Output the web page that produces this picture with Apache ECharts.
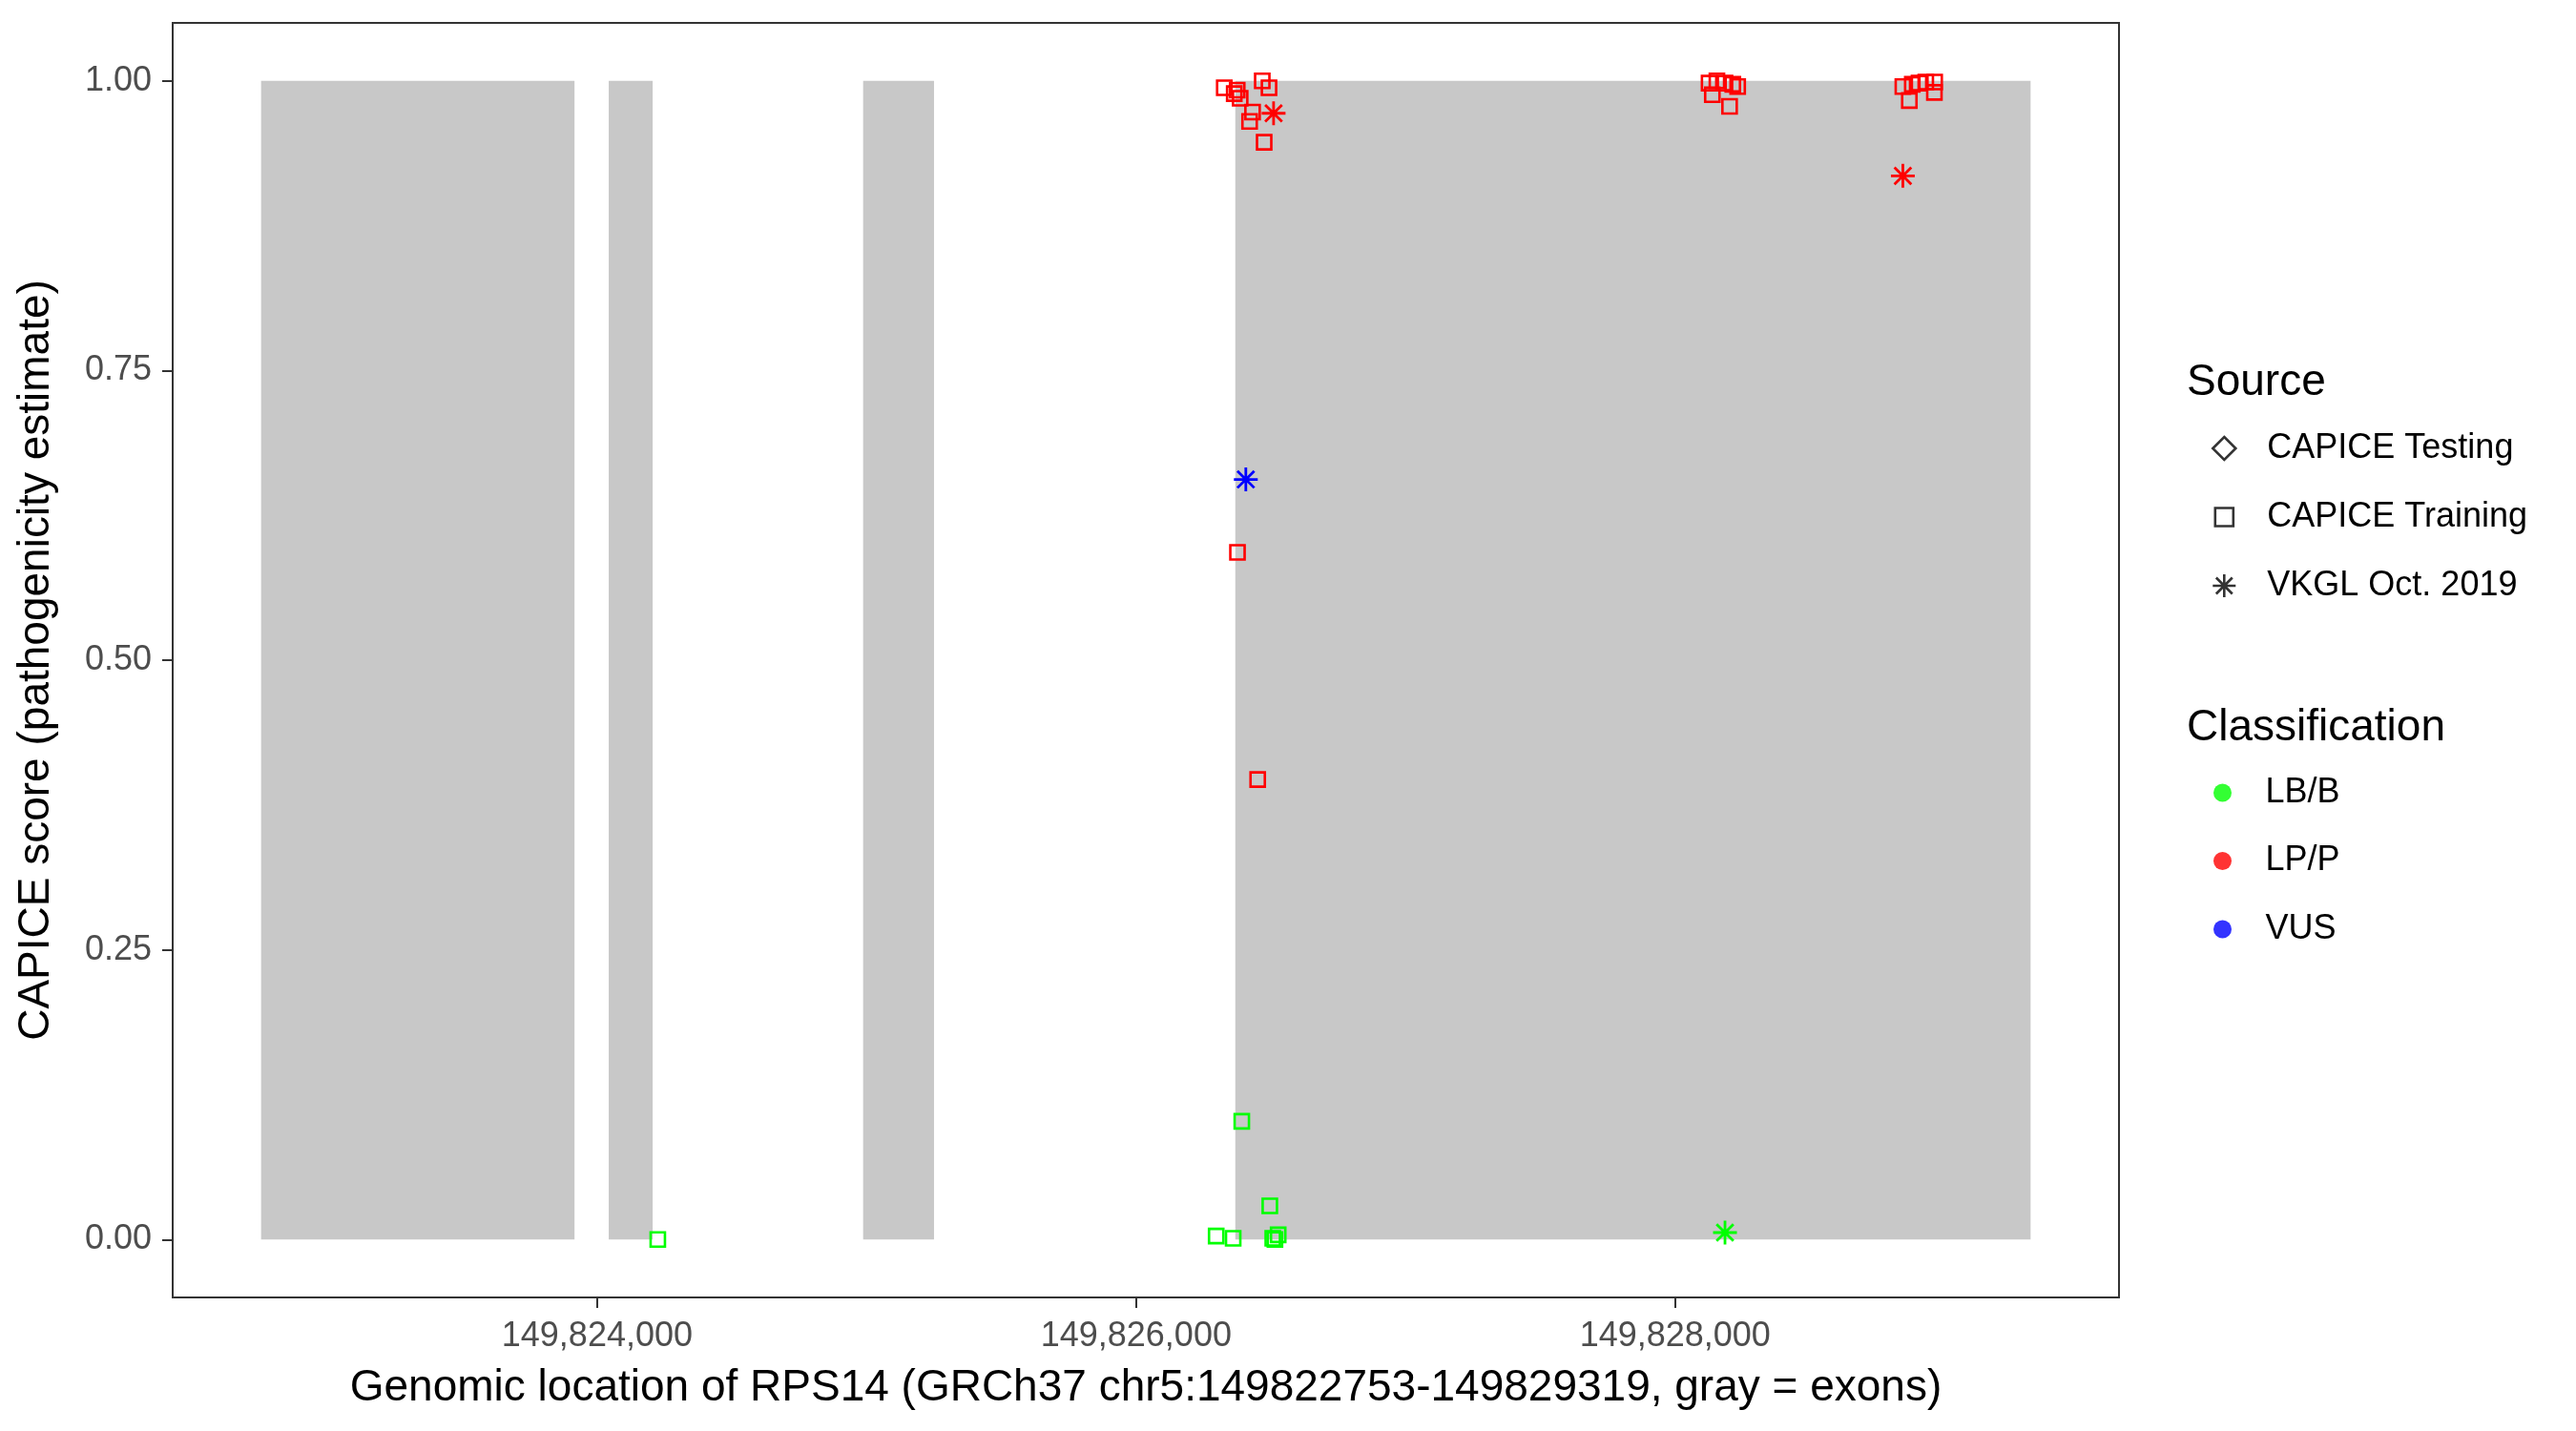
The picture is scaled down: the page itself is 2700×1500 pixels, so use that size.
<!DOCTYPE html>
<html>
<head>
<meta charset="utf-8">
<script src="https://cdn.jsdelivr.net/npm/echarts@6/dist/echarts.min.js"></script>
<style>
html,body{margin:0;padding:0;background:#fff;}
#chart{width:2700px;height:1500px;}
</style>
</head>
<body>
<div id="chart"></div>
<script>
// ---- data ----
const exonStart = [149822753, 149824043, 149824987, 149826368];
const exonEnd   = [149823916, 149824206, 149825250, 149829319];

// [genomic position, CAPICE score]
const lpTraining = [
  [149826327, 0.994], [149826364, 0.989], [149826386, 0.985], [149826375, 0.992],
  [149826468, 1.000], [149826493, 0.994], [149826421, 0.965], [149826432, 0.973],
  [149826475, 0.947], [149826376, 0.593], [149826451, 0.397],
  [149828126, 0.998], [149828138, 0.988], [149828155, 1.000], [149828185, 0.998],
  [149828214, 0.997], [149828232, 0.995], [149828202, 0.978],
  [149828845, 0.995], [149828869, 0.983], [149828880, 0.997], [149828905, 0.998],
  [149828930, 0.999], [149828963, 0.999], [149828962, 0.990]
];
const lpVkgl = [[149826510, 0.972], [149828845, 0.918]];
const lbTraining = [
  [149824225, 0.000], [149826392, 0.102], [149826496, 0.029], [149826297, 0.003],
  [149826360, 0.001], [149826507, 0.001], [149826527, 0.004], [149826515, 0.000]
];
const lbVkgl = [[149828185, 0.006]];
const vusVkgl = [[149826407, 0.656]];

const xTicks = [149824000, 149826000, 149828000];
const yTicks = [0, 0.25, 0.5, 0.75, 1];
const sourceNames = ['CAPICE Testing', 'CAPICE Training', 'VKGL Oct. 2019'];
const classNames = ['LB/B', 'LP/P', 'VUS'];
const classColors = ['#00FF00', '#FF0000', '#0000FF'];

// ---- chart ----
const FONT = '"Liberation Sans", Arial, Helvetica, sans-serif';
const ASTERISK = 'path://M10,0L10,20M0,10L20,10M2.93,2.93L17.07,17.07M2.93,17.07L17.07,2.93';
const DIAMOND = 'path://M10,0L20,10L10,20L0,10Z';
const SQUARE_PADDED = 'path://M0,0M24,24M2.5,2.5L21.5,2.5L21.5,21.5L2.5,21.5Z';
const CIRCLE = 'path://M10,0A10,10 0 1,1 10,20A10,10 0 1,1 10,0Z';

function squareSeries(name, data, color) {
  return {
    name: name, type: 'scatter', data: data, z: 3,
    symbol: 'rect', symbolSize: 15,
    itemStyle: {color: 'rgba(0,0,0,0)', borderColor: color, borderWidth: 2.6, opacity: 1},
    emphasis: {disabled: true}
  };
}
function asteriskSeries(name, data, color) {
  return {
    name: name, type: 'scatter', data: data, z: 3,
    symbol: ASTERISK, symbolSize: 25,
    itemStyle: {color: 'rgba(0,0,0,0)', borderColor: color, borderWidth: 2.8, opacity: 1},
    emphasis: {disabled: true}
  };
}

const exonAreas = exonStart.map((s, i) => [{xAxis: s, yAxis: 0}, {xAxis: exonEnd[i], yAxis: 1}]);

const series = [
  {
    name: 'exons', type: 'scatter', data: [], z: 1, silent: true,
    markArea: {silent: true, itemStyle: {color: '#C8C8C8'}, label: {show: false}, data: exonAreas}
  },
  squareSeries('LP/P Training', lpTraining, classColors[1]),
  asteriskSeries('LP/P VKGL', lpVkgl, classColors[1]),
  squareSeries('LB/B Training', lbTraining, classColors[0]),
  asteriskSeries('LB/B VKGL', lbVkgl, classColors[0]),
  asteriskSeries('VUS VKGL', vusVkgl, classColors[2])
];
// legend-only series
sourceNames.concat(classNames).forEach(n => series.push({name: n, type: 'scatter', data: []}));

const hollow = {color: 'rgba(0,0,0,0)', borderColor: '#000', borderWidth: 2.6};
const legendText = {fontFamily: FONT, fontSize: 36, color: '#000', lineHeight: 40};

const option = {
  animation: false,
  backgroundColor: '#fff',
  textStyle: {fontFamily: FONT},
  grid: {left: 181, right: 479, top: 24, bottom: 140, show: true, borderColor: '#333', borderWidth: 2, backgroundColor: 'rgba(0,0,0,0)'},
  title: [
    {text: 'Source', left: 2292, top: 378, padding: 0, textStyle: {fontFamily: FONT, fontSize: 46, fontWeight: 'normal', color: '#000'}},
    {text: 'Classification', left: 2292, top: 740, padding: 0, textStyle: {fontFamily: FONT, fontSize: 46, fontWeight: 'normal', color: '#000'}}
  ],
  legend: [
    {
      orient: 'vertical', left: 2318, top: 450, padding: 0, itemGap: 32,
      itemWidth: 80, itemHeight: 24, symbolKeepAspect: true, selectedMode: false,
      textStyle: legendText,
      data: [
        {name: sourceNames[0], icon: DIAMOND, itemStyle: hollow},
        {name: sourceNames[1], icon: SQUARE_PADDED, itemStyle: hollow},
        {name: sourceNames[2], icon: ASTERISK, itemStyle: hollow}
      ]
    },
    {
      orient: 'vertical', left: 2320, top: 811, padding: 0, itemGap: 31.5,
      itemWidth: 80, itemHeight: 19, symbolKeepAspect: true, selectedMode: false,
      textStyle: legendText,
      data: classNames.map((n, i) => ({name: n, icon: CIRCLE, itemStyle: {color: classColors[i], borderWidth: 0}}))
    }
  ],
  xAxis: {
    type: 'value', min: 149822425, max: 149829647,
    name: 'Genomic location of RPS14 (GRCh37 chr5:149822753-149829319, gray = exons)',
    nameLocation: 'middle', nameGap: 72,
    nameTextStyle: {fontFamily: FONT, fontSize: 46, color: '#000'},
    axisLine: {show: false, onZero: false},
    axisTick: {show: true, inside: false, customValues: xTicks, length: 11, lineStyle: {color: '#333', width: 2}},
    axisLabel: {customValues: xTicks, margin: 23, fontFamily: FONT, fontSize: 36, color: '#4D4D4D',
      formatter: v => Number(v).toLocaleString('en-US')},
    splitLine: {show: false}
  },
  yAxis: {
    type: 'value', min: -0.05, max: 1.05,
    name: 'CAPICE score (pathogenicity estimate)',
    nameLocation: 'middle', nameGap: 120, nameRotate: 90,
    nameTextStyle: {fontFamily: FONT, fontSize: 46, color: '#000'},
    axisLine: {show: false, onZero: false},
    axisTick: {show: true, inside: false, customValues: yTicks, length: 11, lineStyle: {color: '#333', width: 2}},
    axisLabel: {customValues: yTicks, margin: 22, fontFamily: FONT, fontSize: 36, color: '#4D4D4D',
      formatter: v => Number(v).toFixed(2)},
    splitLine: {show: false}
  },
  series: series
};

const chart = echarts.init(document.getElementById('chart'), null, {renderer: 'canvas'});
chart.setOption(option);
</script>
</body>
</html>
